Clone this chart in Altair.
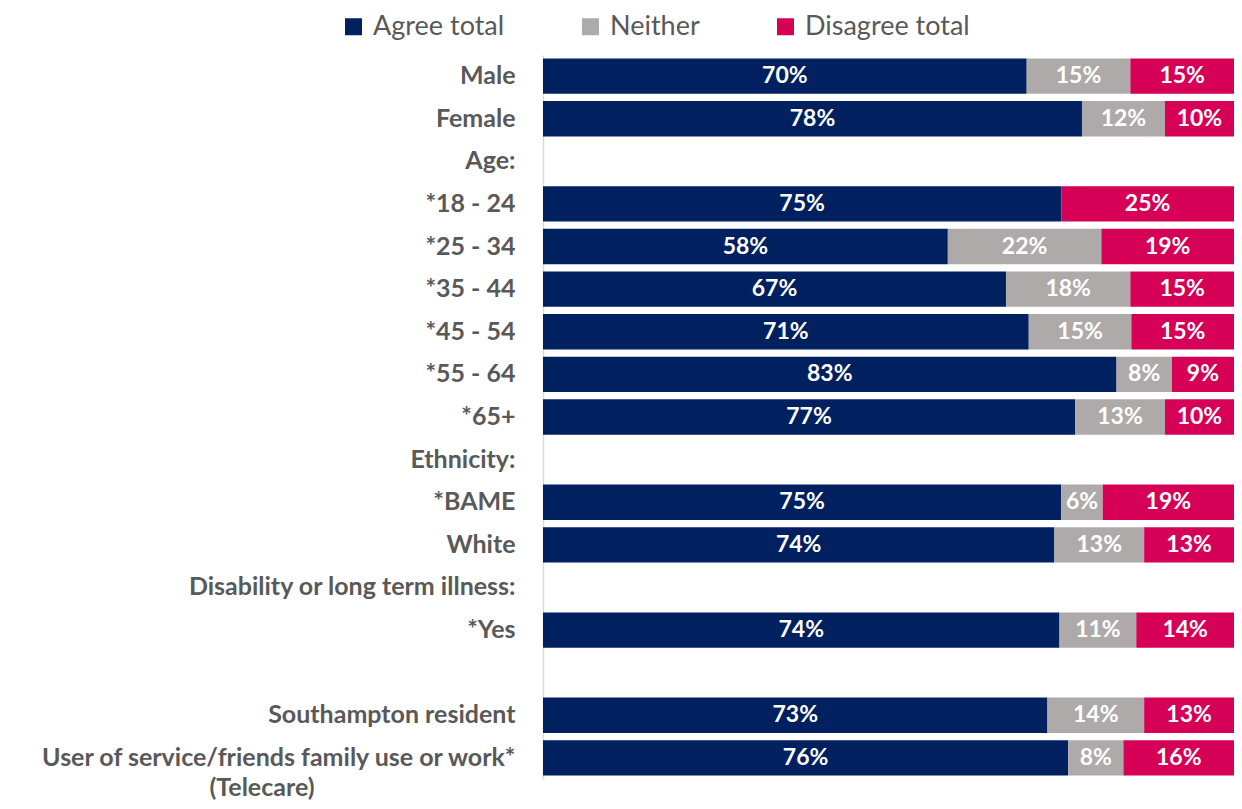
import altair as alt
import pandas as pd

categories = ["Male", "Female", "Age:", "*18 - 24", "*25 - 34", "*35 - 44", "*45 - 54",
              "*55 - 64", "*65+", "Ethnicity:", "*BAME", "White",
              "Disability or long term illness:", "*Yes", " ", "Southampton resident",
              "User of service/friends family use or work*"]
agree = [70, 78, None, 75, 58, 67, 71, 83, 77, None, 75, 74, None, 74, None, 73, 76]
neither = [15, 12, None, 0, 22, 18, 15, 8, 13, None, 6, 13, None, 11, None, 14, 8]
disagree = [15, 10, None, 25, 19, 15, 15, 9, 10, None, 19, 13, None, 14, None, 13, 16]
series = ["Agree total", "Neither", "Disagree total"]
colors = ["#002060", "#AEAAAA", "#D60057"]
sublabel_cat = ["User of service/friends family use or work*"]
sublabel_text = ["(Telecare)"]

rows = []
for c, a, n, d in zip(categories, agree, neither, disagree):
    if a is None:
        continue
    for i, (s, v) in enumerate(zip(series, [a, n, d])):
        rows.append({"cat": c, "series": s, "value": v, "idx": i,
                     "label": f"{v}%"})
df = pd.DataFrame(rows)

FONT = "Lato"
yscale = alt.Scale(domain=categories, paddingInner=0.17, paddingOuter=0.08)

base = alt.Chart(df).transform_stack(
    stack="value", groupby=["cat"], as_=["x0", "x1"], offset="normalize",
    sort=[alt.SortField("idx", order="ascending")]
).transform_calculate(mid="(datum.x0 + datum.x1) / 2")

bars = base.mark_bar().encode(
    y=alt.Y("cat:N", scale=yscale, sort=categories,
            axis=alt.Axis(title=None, ticks=False, labelFont=FONT, labelFontWeight="bold",
                          labelFontSize=25, labelColor="#595959", labelPadding=28,
                          labelLimit=700, domainColor="#D9D9D9", domainWidth=1.5,
                          grid=False)),
    x=alt.X("x0:Q", axis=None, scale=alt.Scale(domain=[0, 1], nice=False)),
    x2="x1:Q",
    color=alt.Color("series:N", scale=alt.Scale(domain=series, range=colors),
                    legend=alt.Legend(title=None, orient="none", legendX=-203, legendY=-42,
                                      direction="horizontal", symbolType="square",
                                      symbolSize=289, symbolStrokeWidth=0,
                                      labelFont=FONT, labelFontSize=27, labelLimit=400,
                                      labelColor="#595959", columnPadding=72,
                                      labelOffset=6)),
)

text = base.transform_filter("datum.value > 0").mark_text(
    color="white", fontWeight="bold", fontSize=23, font=FONT
).encode(
    y=alt.Y("cat:N", scale=yscale, sort=categories),
    x=alt.X("mid:Q", scale=alt.Scale(domain=[0, 1], nice=False)),
    text="label:N",
)

sub = alt.Chart(pd.DataFrame({"cat": sublabel_cat, "t": sublabel_text})).mark_text(
    font=FONT, fontWeight="bold", fontSize=25, color="#595959", align="center", dy=30
).encode(
    y=alt.Y("cat:N", scale=yscale, sort=categories),
    x=alt.value(-281),
    text="t:N",
)

chart = alt.layer(bars, text, sub).properties(
    width=691, height=724,
    autosize=alt.AutoSizeParams(type="none"),
    padding={"left": 535, "top": 47, "right": 0, "bottom": 21},
).configure_view(stroke=None)

chart.save("out.html", embed_options={"renderer": "svg", "actions": False})
